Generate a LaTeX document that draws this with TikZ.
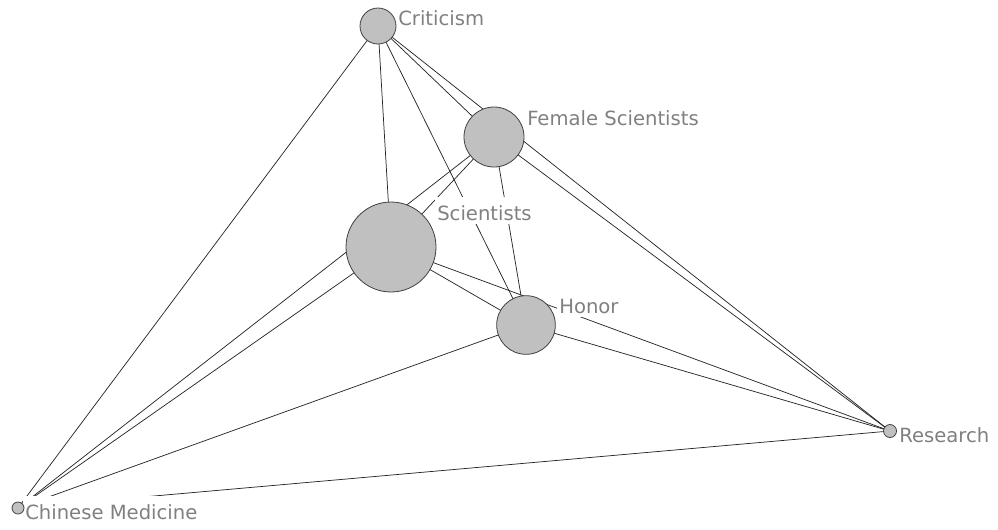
\documentclass[tikz,border=0pt]{standalone}
\usepackage{fontspec}
\setmainfont{DejaVu Sans}
\usetikzlibrary{backgrounds}
\definecolor{nodefill}{RGB}{192,192,192}
\definecolor{labelgray}{RGB}{128,128,128}
\begin{document}
\begin{tikzpicture}[x=0.75pt,y=-0.75pt,
  vertex/.style={draw=black!75,line width=0.6pt,circle,inner sep=0,fill=nodefill},
  lbl/.style={anchor=base west,fill=white,text=labelgray,inner xsep=1.5pt,inner ysep=0pt,
    text height=17pt,text depth=3pt,font=\fontsize{14.7}{17}\selectfont},
  edge/.style={draw=black!85,line width=0.55pt}]

  \useasboundingbox (0,0) rectangle (998,529);

  % labels (white boxes hide the edges)
  \node (lcrit) at (396,25) [lbl]{Criticism};
  \node (lfem) at (525,125) [lbl]{Female Scientists};
  \node (lsci) at (435,220) [lbl]{Scientists};
  \node (lhon) at (557,313) [lbl]{Honor};
  \node (lres) at (897,442) [lbl]{Research};
  \node (lchin) at (23,519) [lbl]{Chinese Medicine};

  % actors
  \node (crit) at (378,26) [vertex,minimum size=27pt]{};
  \node (fem) at (494,137) [vertex,minimum size=45pt]{};
  \node (sci) at (391,247) [vertex,minimum size=67.5pt]{};
  \node (hon) at (526,325) [vertex,minimum size=44pt]{};
  \node (res) at (890,431) [vertex,minimum size=9.75pt]{};
  \node (chin) at (18,508) [vertex,minimum size=9pt]{};

 \begin{scope}[on background layer]
   \foreach \a/\b in {crit/fem,crit/sci,crit/hon,crit/res,crit/chin,
                      fem/sci,fem/hon,fem/res,fem/chin,
                      sci/hon,sci/res,sci/chin,
                      hon/res,hon/chin,res/chin}
      \draw[edge] (\a.center) -- (\b.center);
 \end{scope}

\end{tikzpicture}
\end{document}
